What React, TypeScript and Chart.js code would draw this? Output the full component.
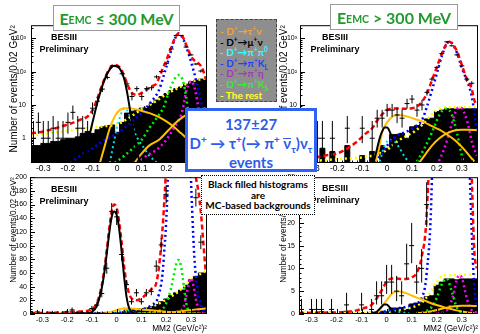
import React, { useEffect, useRef } from "react";
import { Chart, registerables } from "chart.js";

Chart.register(...registerables);
Chart.defaults.font.family = "'Liberation Sans', Arial, sans-serif";
Chart.defaults.color = "#000";

type Pt = [number, number];

// ---------------- binning and axes ----------------
const binCenters = [
  -0.34, -0.32, -0.3, -0.28, -0.26, -0.24, -0.22, -0.2, -0.18, -0.16, -0.14, -0.12,
  -0.1, -0.08, -0.06, -0.04, -0.02, 0, 0.02, 0.04, 0.06, 0.08, 0.1, 0.12, 0.14, 0.16,
  0.18, 0.2, 0.22, 0.24, 0.26, 0.28, 0.3, 0.32, 0.34,
];
const binHalfWidth = 0.01;
const xMin = -0.35;
const xMax = 0.365;
const xTickValues = [-0.3, -0.2, -0.1, 0, 0.1, 0.2, 0.3];
const logMin = 0.18;
const logMax = 2500;
const logTickValues = [1, 10, 100, 1000];
const logTickLabels = ["1", "10", "10\u00b2", "10\u00b3"];
const lowLinMax = 200;
const lowLinTicks = [0, 20, 40, 60, 80, 100, 120, 140, 160, 180, 200];
const highLinMax = 30;
const highLinTicks = [0, 5, 10, 15, 20, 25, 30];

// ---------------- E_EMC <= 300 MeV : data ----------------
const lowCounts = [1, 3, 1, 1, 2, 1, 1, 3, 6, 2, 2, 1, 8, 13, 30, 67, 150, 142, 87, 43, 18, 31, 18, 31, 33, 70, 101, 175, 480, 1230, 1230, 550, 320, 170, 105];
const lowErrDn = [0.83, 1.63, 0.83, 0.83, 1.29, 0.83, 0.83, 1.63, 2.38, 1.29, 1.29, 0.83, 2.77, 3.58, 5.5, 8.2, 12.2, 11.9, 9.3, 6.6, 4.2, 5.6, 4.2, 5.6, 5.7, 8.4, 10, 13.2, 21.9, 35, 35, 23.5, 17.9, 13, 10.2];
const lowErrUp = [2.3, 2.92, 2.3, 2.3, 2.64, 2.3, 2.3, 2.92, 3.58, 2.64, 2.64, 2.3, 3.95, 4.71, 5.5, 8.2, 12.2, 11.9, 9.3, 6.6, 5.3, 5.6, 5.3, 5.6, 5.7, 8.4, 10, 13.2, 21.9, 35, 35, 23.5, 17.9, 13, 10.2];
const lowBkg = [0.6, 0.6, 0.7, 0.7, 0.8, 0.8, 0.9, 1.0, 1.0, 1.1, 1.4, 1.6, 1.4, 1.8, 2.2, 2.4, 2.5, 1.5, 3, 5.7, 6.5, 7, 8, 9, 11, 14, 18, 22, 27, 31, 35, 42, 50, 55, 60];

const lowTotal: Pt[] = [[-0.35, 1.4], [-0.3, 1.6], [-0.25, 2.0], [-0.2, 2.6], [-0.15, 3.6], [-0.12, 4.5], [-0.1, 7], [-0.08, 16], [-0.06, 42], [-0.05, 65], [-0.04, 93], [-0.03, 125], [-0.02, 150], [-0.01, 160], [0, 155], [0.01, 135], [0.02, 105], [0.03, 70], [0.04, 45], [0.05, 30], [0.06, 23], [0.08, 20], [0.1, 23], [0.12, 29], [0.14, 36], [0.16, 45], [0.18, 100], [0.19, 150], [0.2, 220], [0.21, 350], [0.22, 540], [0.23, 850], [0.24, 1200], [0.25, 1400], [0.26, 1300], [0.27, 1000], [0.28, 650], [0.29, 430], [0.3, 300], [0.31, 230], [0.32, 200], [0.33, 180], [0.34, 150], [0.35, 105], [0.36, 60]];
const lowMuNu: Pt[] = [[-0.14, 0.2], [-0.12, 0.7], [-0.1, 3], [-0.08, 12], [-0.06, 38], [-0.05, 60], [-0.04, 88], [-0.03, 118], [-0.02, 142], [-0.01, 150], [0, 145], [0.01, 125], [0.02, 92], [0.03, 55], [0.04, 25], [0.05, 9], [0.06, 3], [0.07, 1], [0.09, 0.2]];
const lowTauNu: Pt[] = [[-0.07, 0.18], [-0.05, 0.6], [-0.03, 2], [-0.01, 4.5], [0.01, 7], [0.03, 8], [0.05, 8], [0.08, 7.3], [0.11, 6.3], [0.14, 5.4], [0.17, 4.3], [0.2, 3.2], [0.23, 2.2], [0.26, 1.4], [0.29, 0.9], [0.33, 0.56], [0.36, 0.4]];
const lowTauNu2: Pt[] = [[0.07, 0.18], [0.1, 0.35], [0.13, 0.6], [0.17, 0.9], [0.21, 1.8], [0.25, 3.5], [0.29, 5.5], [0.33, 7], [0.36, 8]];
const lowPiPi0: Pt[] = [[-0.03, 0.18], [-0.01, 1], [0.01, 4], [0.03, 8], [0.05, 5], [0.07, 1.6], [0.09, 0.8], [0.11, 0.5], [0.13, 0.3], [0.15, 0.22], [0.17, 0.16]];
const lowPiKL: Pt[] = [[-0.19, 0.18], [-0.15, 0.3], [-0.1, 0.5], [-0.05, 0.9], [0, 1.4], [0.05, 2.7], [0.1, 6], [0.14, 13], [0.17, 28], [0.19, 80], [0.21, 250], [0.23, 800], [0.25, 1400], [0.27, 900], [0.29, 350], [0.31, 110], [0.325, 40], [0.34, 14], [0.35, 5], [0.36, 2]];
const lowPiEta: Pt[] = [[0.08, 0.18], [0.12, 0.3], [0.16, 0.45], [0.2, 0.9], [0.23, 2], [0.25, 3.5], [0.26, 5], [0.27, 10], [0.28, 25], [0.29, 42], [0.3, 52], [0.31, 42], [0.32, 22], [0.33, 8], [0.34, 2.5], [0.35, 0.8], [0.36, 0.3]];
const lowPiKS: Pt[] = [[-0.01, 0.18], [0.03, 0.3], [0.07, 0.55], [0.1, 0.9], [0.13, 2], [0.16, 4], [0.19, 9], [0.21, 25], [0.22, 38], [0.23, 55], [0.24, 72], [0.25, 79], [0.26, 70], [0.27, 45], [0.28, 18], [0.29, 5], [0.3, 1.5], [0.31, 0.5], [0.32, 0.18]];
const lowRest: Pt[] = [[-0.35, 1.2], [-0.25, 1.5], [-0.15, 1.9], [-0.05, 2.3], [0, 2.6], [0.05, 4.2], [0.1, 7.5], [0.15, 12], [0.2, 21], [0.25, 33], [0.3, 50], [0.36, 63]];

// ---------------- E_EMC > 300 MeV : data ----------------
const highCounts = [1, 0, 1, 1, 1, 0, 1, 0, 0, 2, 0, 0, 2, 0, 1, 4, 4, 7, 7, 5, 4, 11, 15, 7, 10, 24, 60, 134, 350, 790, 600, 320, 150, 60, 45];
const highErrDn = [0.83, 0, 0.83, 0.83, 0.83, 0, 0.83, 0, 0, 1.29, 0, 0, 1.29, 0, 0.83, 1.91, 1.91, 2.58, 2.58, 2.16, 1.91, 3.27, 3.87, 2.58, 3.11, 4.9, 7.7, 11.6, 18.7, 28, 24.5, 17.9, 12.2, 7.7, 6.7];
const highErrUp = [2.3, 0, 2.3, 2.3, 2.3, 0, 2.3, 0, 0, 2.64, 0, 0, 2.64, 0, 2.3, 3.16, 3.16, 3.77, 3.77, 3.38, 3.16, 4.42, 4.97, 3.77, 4.27, 4.9, 7.7, 11.6, 18.7, 28, 24.5, 17.9, 12.2, 7.7, 6.7];
const highBkg = [0, 0, 0, 0, 0.5, 0, 0.4, 0, 0, 0.6, 0, 0, 0.3, 0, 0.4, 0, 0.6, 0.5, 1.3, 1.3, 1.4, 1.0, 2.2, 2.4, 2.6, 3.8, 4.0, 6.3, 7.0, 7.7, 7.7, 7.5, 7.7, 7.7, 7.7];

const highTotal: Pt[] = [[-0.35, 0.2], [-0.3, 0.25], [-0.25, 0.3], [-0.2, 0.35], [-0.15, 0.55], [-0.12, 0.8], [-0.09, 1.3], [-0.06, 2], [-0.04, 3.4], [-0.02, 5.2], [0, 7], [0.02, 7.8], [0.04, 7.8], [0.06, 7.7], [0.08, 7.7], [0.1, 8], [0.12, 9], [0.14, 12.5], [0.16, 22], [0.18, 55], [0.2, 140], [0.22, 350], [0.24, 720], [0.25, 800], [0.26, 720], [0.28, 420], [0.3, 160], [0.32, 60], [0.34, 30], [0.35, 14], [0.36, 10]];
const highMuNu: Pt[] = [[-0.06, 0.15], [-0.05, 0.25], [-0.04, 0.5], [-0.03, 1.0], [-0.02, 1.6], [-0.01, 2.1], [0, 2.1], [0.01, 1.6], [0.02, 1.0], [0.03, 0.45], [0.04, 0.2]];
const highTauNu: Pt[] = [[-0.045, 0.2], [-0.03, 0.6], [-0.02, 1.5], [0, 3], [0.02, 4.4], [0.04, 5], [0.06, 4.9], [0.09, 4.3], [0.12, 3.6], [0.15, 3], [0.18, 2.3], [0.21, 1.8], [0.24, 1.3], [0.27, 0.9], [0.3, 0.55], [0.33, 0.3], [0.35, 0.2]];
const highTauNu2: Pt[] = [[0.12, 0.15], [0.15, 0.3], [0.18, 0.6], [0.21, 1], [0.24, 1.4], [0.27, 1.7], [0.3, 1.8], [0.33, 1.8], [0.36, 1.75]];
const highPiPi0: Pt[] = [[-0.03, 0.2], [-0.01, 0.6], [0.01, 0.9], [0.03, 0.8], [0.05, 0.5], [0.07, 0.28], [0.09, 0.18]];
const highPiKL: Pt[] = [[-0.05, 0.2], [-0.02, 0.35], [0, 0.6], [0.04, 1.2], [0.08, 1.6], [0.11, 2.2], [0.14, 3.5], [0.16, 9], [0.18, 28], [0.2, 90], [0.22, 300], [0.24, 700], [0.25, 790], [0.26, 720], [0.28, 380], [0.3, 130], [0.32, 55], [0.33, 35], [0.34, 18], [0.35, 6], [0.36, 1.5]];
const highPiEta: Pt[] = [[0.2, 0.15], [0.23, 0.5], [0.25, 1.5], [0.27, 5], [0.28, 7.5], [0.29, 8.5], [0.3, 8], [0.32, 3.5], [0.33, 1.8], [0.34, 0.8], [0.36, 0.3]];
const highPiKS: Pt[] = [[0.12, 0.2], [0.15, 0.5], [0.18, 1.5], [0.2, 3.5], [0.22, 6.5], [0.24, 7.8], [0.26, 5], [0.28, 1.5], [0.3, 0.3], [0.31, 0.15]];
const highRest: Pt[] = [[-0.35, 0.2], [-0.25, 0.22], [-0.15, 0.25], [-0.09, 0.27], [-0.03, 0.35], [0, 0.45], [0.04, 0.8], [0.08, 1.2], [0.11, 1.6], [0.14, 2.5], [0.17, 4.4], [0.2, 7], [0.23, 8.5], [0.26, 8.5], [0.3, 8.6], [0.36, 8.7]];

// ---------------- styles ----------------
interface Curves {
  total: Pt[]; muNu: Pt[]; tauNu: Pt[]; tauNu2: Pt[]; piPi0: Pt[]; piKL: Pt[]; piEta: Pt[]; piKS: Pt[]; rest: Pt[];
}
const lowCurves: Curves = { total: lowTotal, muNu: lowMuNu, tauNu: lowTauNu, tauNu2: lowTauNu2, piPi0: lowPiPi0, piKL: lowPiKL, piEta: lowPiEta, piKS: lowPiKS, rest: lowRest };
const highCurves: Curves = { total: highTotal, muNu: highMuNu, tauNu: highTauNu, tauNu2: highTauNu2, piPi0: highPiPi0, piKL: highPiKL, piEta: highPiEta, piKS: highPiKS, rest: highRest };

const curveStyles: { key: keyof Curves; color: string; width: number; dash: number[]; order: number }[] = [
  { key: "muNu", color: "#000000", width: 2, dash: [], order: 1 },
  { key: "tauNu", color: "#ffbf00", width: 2, dash: [], order: 2 },
  { key: "tauNu2", color: "#ffbf00", width: 2, dash: [], order: 2 },
  { key: "total", color: "#ff0000", width: 2.5, dash: [5, 3], order: 3 },
  { key: "piKL", color: "#0000ff", width: 2.5, dash: [2, 3], order: 4 },
  { key: "piKS", color: "#00ee00", width: 2.5, dash: [2, 3], order: 5 },
  { key: "piEta", color: "#ff00ff", width: 2.5, dash: [2, 3], order: 6 },
  { key: "piPi0", color: "#00dddd", width: 2, dash: [2, 3], order: 7 },
  { key: "rest", color: "#ffff00", width: 2.5, dash: [2, 3], order: 8 },
];

interface PanelSpec {
  id: string;
  area: { l: number; r: number; t: number; b: number };
  yAxisWidth: number; xAxisHeight: number;
  log: boolean; linMax: number; linTicks: number[]; linMinorStep: number;
  counts: number[]; errDn: number[]; errUp: number[]; bkg: number[]; curves: Curves;
  yTickFont: number; yTickPad: number; yTitleFont: number; yTitlePad: number;
  xTickFont: number; xTickPad: number; xTitle: boolean; xTitleFont: number;
}

const panels: PanelSpec[] = [
  { id: "tl", area: { l: 31, r: 207, t: 25, b: 163 }, yAxisWidth: 31, xAxisHeight: 12,
    log: true, linMax: 0, linTicks: [], linMinorStep: 0,
    counts: lowCounts, errDn: lowErrDn, errUp: lowErrUp, bkg: lowBkg, curves: lowCurves,
    yTickFont: 7, yTickPad: 5, yTitleFont: 10, yTitlePad: 8, xTickFont: 8.5, xTickPad: 1, xTitle: false, xTitleFont: 8 },
  { id: "tr", area: { l: 300, r: 478, t: 25, b: 163 }, yAxisWidth: 31, xAxisHeight: 12,
    log: true, linMax: 0, linTicks: [], linMinorStep: 0,
    counts: highCounts, errDn: highErrDn, errUp: highErrUp, bkg: highBkg, curves: highCurves,
    yTickFont: 7, yTickPad: 3, yTitleFont: 10, yTitlePad: 9, xTickFont: 8.5, xTickPad: 1, xTitle: false, xTitleFont: 8 },
  { id: "bl", area: { l: 30, r: 207, t: 177, b: 314 }, yAxisWidth: 30, xAxisHeight: 20,
    log: false, linMax: lowLinMax, linTicks: lowLinTicks, linMinorStep: 4,
    counts: lowCounts, errDn: lowErrDn, errUp: lowErrUp, bkg: lowBkg, curves: lowCurves,
    yTickFont: 7, yTickPad: 3, yTitleFont: 8.3, yTitlePad: 8.5, xTickFont: 7.5, xTickPad: 1.5, xTitle: true, xTitleFont: 8.3 },
  { id: "br", area: { l: 299, r: 478, t: 177, b: 314 }, yAxisWidth: 31, xAxisHeight: 20,
    log: false, linMax: highLinMax, linTicks: highLinTicks, linMinorStep: 1,
    counts: highCounts, errDn: highErrDn, errUp: highErrUp, bkg: highBkg, curves: highCurves,
    yTickFont: 7, yTickPad: 4, yTitleFont: 8.3, yTitlePad: 11, xTickFont: 7.5, xTickPad: 1.5, xTitle: true, xTitleFont: 8.3 },
];

function framePlugin(p: PanelSpec) {
  return {
    id: "frameTicks",
    afterDatasetsDraw(chart: any) {
      const { ctx, chartArea: a } = chart;
      const xs = chart.scales.x;
      const ys = chart.scales.y;
      ctx.save();
      ctx.strokeStyle = "#000";
      ctx.lineWidth = 1;
      ctx.beginPath();
      const xTick = (v: number, len: number) => {
        const px = Math.round(xs.getPixelForValue(v)) + 0.5;
        ctx.moveTo(px, a.bottom);
        ctx.lineTo(px, a.bottom - len);
      };
      const yTick = (v: number, len: number) => {
        const py = Math.round(ys.getPixelForValue(v)) + 0.5;
        ctx.moveTo(a.left, py);
        ctx.lineTo(a.left + len, py);
      };
      for (let k = -17; k <= 18; k++) xTick(k * 0.02, 2.5);
      xTickValues.forEach((v) => xTick(v, 5));
      if (p.log) {
        for (let d = -1; d <= 3; d++) {
          for (let m = 2; m <= 9; m++) {
            const v = m * Math.pow(10, d);
            if (v > logMin && v < logMax) yTick(v, 2.5);
          }
        }
        logTickValues.forEach((v) => yTick(v, 5));
      } else {
        for (let v = 0; v <= p.linMax; v += p.linMinorStep) yTick(v, 2.5);
        p.linTicks.forEach((v) => yTick(v, 5));
      }
      ctx.stroke();
      ctx.strokeRect(a.left + 0.5, a.top + 0.5, a.right - a.left - 1, a.bottom - a.top - 1);
      ctx.restore();
    },
  };
}

function buildConfig(p: PanelSpec): any {
  const log = p.log;
  const pos = (v: number) => (log ? Math.max(v, 0.01) : v);
  const errPts: { x: number; y: number | null }[] = [];
  p.counts.forEach((n, i) => {
    if (log && n <= 0) return;
    const c = binCenters[i];
    if (p.errDn[i] + p.errUp[i] > 0) {
      errPts.push({ x: c, y: pos(n - p.errDn[i]) }, { x: c, y: n + p.errUp[i] }, { x: c, y: null });
    }
    errPts.push({ x: c - binHalfWidth, y: n }, { x: c + binHalfWidth, y: n }, { x: c, y: null });
  });
  const last = p.bkg.length - 1;
  const histPts = [
    { x: xMin, y: pos(p.bkg[0]) },
    ...binCenters.map((c, i) => ({ x: c, y: pos(p.bkg[i]) })),
    { x: xMax, y: pos(p.bkg[last]) },
  ];
  const datasets: any[] = [
    { data: errPts, borderColor: "#000", borderWidth: 1, pointRadius: 0, spanGaps: false, fill: false, order: 0, clip: 0 },
    ...curveStyles.map((s) => ({
      data: p.curves[s.key].map(([x, y]) => ({ x, y })),
      borderColor: s.color,
      borderWidth: s.width,
      borderDash: s.dash,
      borderCapStyle: "butt",
      pointRadius: 0,
      fill: false,
      cubicInterpolationMode: "monotone",
      order: s.order,
      clip: 0,
    })),
    { data: histPts, stepped: "middle", borderColor: "#000", backgroundColor: "#000", borderWidth: 1, pointRadius: 0, fill: "start", order: 20, clip: 0 },
  ];

  const noGrid = { display: false, drawTicks: false, tickLength: 0 };
  const yTitle = {
    display: true,
    text: "Number of events/0.02 GeV\u00b2",
    align: "end",
    color: "#000",
    font: { size: p.yTitleFont },
    padding: { top: p.yTitlePad, bottom: 0 },
  };
  const yScale: any = log
    ? {
        type: "logarithmic", min: logMin, max: logMax,
        grid: noGrid, border: { display: false },
        afterBuildTicks: (s: any) => { s.ticks = logTickValues.map((value) => ({ value })); },
        afterFit: (s: any) => { s.width = p.yAxisWidth; },
        ticks: { autoSkip: false, padding: p.yTickPad, color: "#000", font: { size: p.yTickFont },
          callback: (v: any) => logTickLabels[logTickValues.indexOf(Number(v))] },
        title: yTitle,
      }
    : {
        type: "linear", min: 0, max: p.linMax,
        grid: noGrid, border: { display: false },
        afterBuildTicks: (s: any) => { s.ticks = p.linTicks.map((value) => ({ value })); },
        afterFit: (s: any) => { s.width = p.yAxisWidth; },
        ticks: { autoSkip: false, padding: p.yTickPad, color: "#000", font: { size: p.yTickFont } },
        title: yTitle,
      };

  return {
    type: "line",
    data: { datasets },
    options: {
      animation: false,
      responsive: false,
      maintainAspectRatio: false,
      events: [],
      layout: { padding: 0 },
      plugins: { legend: { display: false }, tooltip: { enabled: false }, title: { display: false } },
      scales: {
        x: {
          type: "linear", min: xMin, max: xMax,
          grid: noGrid, border: { display: false },
          afterBuildTicks: (s: any) => { s.ticks = xTickValues.map((value) => ({ value })); },
          afterFit: (s: any) => { s.height = p.xAxisHeight; },
          ticks: { autoSkip: false, maxRotation: 0, padding: p.xTickPad, color: "#000", font: { size: p.xTickFont },
            callback: (v: any) => (Number(v) === 0 ? "0" : Number(v).toFixed(1)) },
          title: p.xTitle
            ? { display: true, text: "MM2 (GeV/c\u00b2)\u00b2", align: "end", color: "#000", font: { size: p.xTitleFont }, padding: { top: 0, bottom: 0 } }
            : { display: false },
        },
        y: yScale,
      },
    },
    plugins: [framePlugin(p)],
  };
}

// Places the canvas so that the chart area lands on the wanted page rectangle.
function ChartPanel({ spec }: { spec: PanelSpec }) {
  const ref = useRef<HTMLCanvasElement>(null);
  useEffect(() => {
    const canvas = ref.current as HTMLCanvasElement;
    const { l, r, t, b } = spec.area;
    const probeW = r - l + 60;
    const probeH = b - t + 60;
    canvas.width = probeW;
    canvas.height = probeH;
    let chart = new Chart(canvas, buildConfig(spec));
    const ca = chart.chartArea;
    const ml = ca.left;
    const mt = ca.top;
    const mr = probeW - ca.right;
    const mb = probeH - ca.bottom;
    chart.destroy();
    const w = Math.round(r - l + ml + mr);
    const h = Math.round(b - t + mt + mb);
    canvas.width = w;
    canvas.height = h;
    canvas.style.position = "absolute";
    canvas.style.left = `${Math.round(l - ml)}px`;
    canvas.style.top = `${Math.round(t - mt)}px`;
    canvas.style.width = `${w}px`;
    canvas.style.height = `${h}px`;
    chart = new Chart(canvas, buildConfig(spec));
    return () => chart.destroy();
  }, [spec]);
  return <canvas ref={ref} style={{ position: "absolute", left: 0, top: 0 }} />;
}

const Sup = ({ children }: { children: React.ReactNode }) => (
  <sup style={{ fontSize: "65%", lineHeight: 0, verticalAlign: "super" }}>{children}</sup>
);
const Sub = ({ children }: { children: React.ReactNode }) => (
  <sub style={{ fontSize: "65%", lineHeight: 0, verticalAlign: "sub" }}>{children}</sub>
);

const uiFont = "Lato, 'DejaVu Sans', sans-serif";
const rootFont = "'Liberation Sans', Arial, sans-serif";

const legendItems: { color: string; content: React.ReactNode }[] = [
  { color: "#f7a035", content: <>D<Sup>+</Sup>→τ<Sup>+</Sup>ν</> },
  { color: "#000000", content: <>D<Sup>+</Sup>→μ<Sup>+</Sup>ν</> },
  { color: "#33ffff", content: <>D<Sup>+</Sup>→π<Sup>+</Sup>π<Sup>0</Sup></> },
  { color: "#2a3cff", content: <>D<Sup>+</Sup>→π<Sup>+</Sup>K<Sub>L</Sub></> },
  { color: "#a23ab4", content: <>D<Sup>+</Sup>→π<Sup>+</Sup>η</> },
  { color: "#33ee33", content: <>D<Sup>+</Sup>→π<Sup>+</Sup>K<Sub>S</Sub></> },
  { color: "#ffff33", content: <>The rest</> },
];

function Besiii({ left, top, lh }: { left: number; top: number; lh: number }) {
  return (
    <div style={{ position: "absolute", left, top, width: 62, textAlign: "center", fontFamily: rootFont, fontWeight: 700, fontSize: 9, lineHeight: `${lh}px`, color: "#000" }}>
      <div>BESIII</div>
      <div>Preliminary</div>
    </div>
  );
}

function TitleBox({ left, width, top, op }: { left: number; width: number; top: number; op: string }) {
  return (
    <div style={{ position: "absolute", left, top, width, height: 26, boxSizing: "border-box", border: "1px solid #9a9a9a", background: "#fff",
      display: "flex", alignItems: "center", justifyContent: "center", color: "#22992e", fontFamily: uiFont, fontWeight: 700, fontSize: 16, whiteSpace: "nowrap" }}>
      <span>E</span>
      <span style={{ fontSize: 10.5, position: "relative", top: 2 }}>EMC</span>
      <span>&nbsp;{op} 300 MeV</span>
    </div>
  );
}

export default function App() {
  return (
    <div style={{ position: "fixed", left: 0, top: 0, width: 480, height: 334, background: "#fff", overflow: "hidden" }}>
      {panels.map((p) => (
        <ChartPanel key={p.id} spec={p} />
      ))}

      <Besiii left={33} top={31} lh={12} />
      <Besiii left={33} top={184} lh={11.5} />
      <Besiii left={304} top={32} lh={11.5} />
      <Besiii left={304} top={183} lh={11.5} />

      <TitleBox left={53} width={127} top={5} op="≤" />
      <TitleBox left={330} width={128} top={4} op=">" />

      <div style={{ position: "absolute", left: 216, top: 19, width: 61, height: 83, boxSizing: "border-box", background: "#8e8e8e", border: "1px dashed #444",
        fontFamily: uiFont, fontWeight: 700, fontSize: 10, lineHeight: "10.6px", paddingTop: 6, paddingLeft: 3, whiteSpace: "nowrap", overflow: "hidden" }}>
        {legendItems.map((it, i) => (
          <div key={i} style={{ color: it.color }}>
            -&nbsp;{it.content}
          </div>
        ))}
      </div>

      <div style={{ position: "absolute", left: 185, top: 108, width: 132, height: 64, boxSizing: "border-box", background: "#fff", border: "3px solid #2f62f2",
        color: "#2d5ceb", fontFamily: uiFont, fontWeight: 700, fontSize: 15, lineHeight: "19px", textAlign: "center", paddingTop: 4, whiteSpace: "nowrap" }}>
        <div>137±27</div>
        <div>
          D<Sup>+</Sup> → τ<Sup>+</Sup>(→ π<Sup>+</Sup>{" "}
          <span style={{ display: "inline-block", borderTop: "1.5px solid #2d5ceb", lineHeight: "9px" }}>ν</span>
          <Sub>τ</Sub>)ν<Sub>τ</Sub>
        </div>
        <div>events</div>
      </div>

      <div style={{ position: "absolute", left: 201, top: 175, width: 114, height: 40, boxSizing: "border-box", background: "#fff", border: "1px dotted #000",
        color: "#000", fontFamily: uiFont, fontWeight: 700, fontSize: 10, lineHeight: "10.5px", textAlign: "center", paddingTop: 3, whiteSpace: "nowrap" }}>
        <div>Black filled histograms</div>
        <div>are</div>
        <div>MC-based backgrounds</div>
      </div>
    </div>
  );
}
